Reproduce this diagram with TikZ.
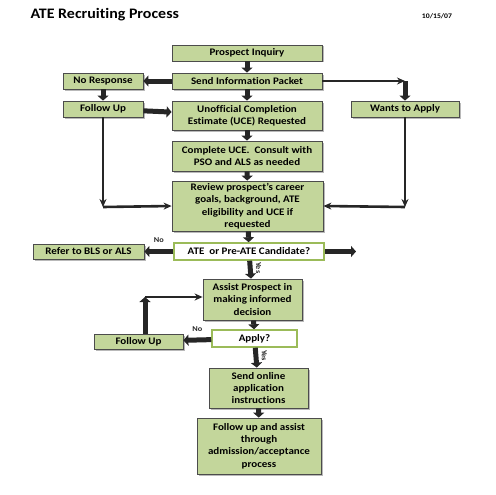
\documentclass[tikz,border=0pt]{standalone}
\usepackage{fontspec}
\setmainfont{Carlito}[FakeStretch=1.1,Ligatures=NoCommon]
\usetikzlibrary{arrows.meta,shadows}
\definecolor{boxgreen}{HTML}{C3D69B}
\definecolor{edgegreen}{HTML}{9BBB59}
\begin{document}
\begin{tikzpicture}[x=1pt,y=-1pt,font=\bfseries\fontsize{10}{12.4}\selectfont,
    box/.style={draw=black!70,line width=0.8pt,fill=boxgreen,align=center,inner sep=1pt,
      drop shadow={shadow xshift=1.5pt,shadow yshift=-1.5pt,fill=black!55}},
    ask/.style={draw=edgegreen,line width=1.5pt,fill=white,align=center,inner sep=1pt},
    flow/.style={line width=5pt,black!85,-{Triangle[width=11pt,length=5pt]}},
    link/.style={line width=2.6pt,black!85,-{Stealth[width=7pt,length=8pt]}},
    tag/.style={font=\bfseries\fontsize{7.5}{8}\selectfont}]
    \useasboundingbox (0,0) rectangle (495,495);
    \draw node[anchor=west] at(27,15) {\fontsize{14.5}{16}\selectfont ATE Recruiting Process};
    \draw node at(437,16) {\fontsize{7}{8}\selectfont 10/15/07};
    % boxes
    \node[box,minimum width=150,minimum height=16] (pinq) at(247,53) {Prospect Inquiry};
    \node[box,minimum width=150,minimum height=16] (sendp) at(247,81) {Send Information Packet};
    \node[box,minimum width=80,minimum height=16] (noresp) at(103,81) {No Response};
    \node[box,minimum width=80,minimum height=16] (fupa) at(103,109) {Follow Up};
    \node[box,minimum width=150,minimum height=29] (uce) at(247,115.5) {Unofficial Completion\\Estimate (UCE) Requested};
    \node[box,minimum width=108,minimum height=16] (wants) at(405,109) {Wants to Apply};
    \node[box,minimum width=150,minimum height=30] (compl) at(247,156) {Complete UCE.\ \ Consult with\\PSO and ALS as needed};
    \node[box,minimum width=151,minimum height=50] (review) at(247.5,206) {Review prospect’s career\\goals, background, ATE\\eligibility and UCE if\\requested};
    \node[ask,minimum width=150,minimum height=17] (cand) at(249,251.5) {ATE\ \ or Pre-ATE Candidate?};
    \node[box,minimum width=111,minimum height=15] (refer) at(88.5,251.5) {Refer to BLS or ALS};
    \node[box,minimum width=99,minimum height=41] (assist) at(252.5,299.5) {Assist Prospect in\\making informed\\decision};
    \node[ask,minimum width=85,minimum height=17] (apply) at(254.5,338.5) {Apply?};
    \node[box,minimum width=89,minimum height=15] (fupb) at(138.5,341.5) {Follow Up};
    \node[box,minimum width=99,minimum height=40] (sendo) at(258.5,388) {Send online\\application\\instructions};
    \node[box,minimum width=124,minimum height=56] (fassist) at(259,446) {Follow up and assist\\through\\admission/acceptance\\process};
    % corners and free ends
    \coordinate (wturn) at(405,81);
    \coordinate (fturn) at(103,207);
    \coordinate (aturn) at(405,207);
    \coordinate (cend) at(356,251.5);
    \coordinate (bturn) at(145,297);
    % short block arrows
    \draw[flow] (pinq) -- (sendp);
    \draw[flow] (sendp) -- (noresp);
    \draw[flow] (noresp) -- (fupa);
    \draw[flow] (sendp) -- (uce);
    \draw[flow] (fupa) -- (uce);
    \draw[flow] (uce) -- (compl);
    \draw[flow] (compl) -- (review);
    \draw[flow] (review) -- (cand);
    \draw[flow] (cand) -- node[tag,above,yshift=3pt] {No} (refer);
    \draw[flow] (cand) -- (cend);
    \draw[flow] (cand) -- node[tag,rotate=-90,anchor=south,pos=0.4] {Yes} (assist);
    \draw[flow] (assist) -- (apply);
    \draw[flow] (apply) -- node[tag,above,yshift=3pt] {No} (fupb);
    \draw[flow] (apply) -- node[tag,rotate=-90,anchor=south,pos=0.4] {Yes} (sendo);
    \draw[flow] (sendo) -- (fassist);
    % long connectors
    \draw[link] (sendp.east) -- (wturn);
    \draw[flow] (wturn) -- (wants);
    \draw[link] (fupa) -- (fturn);
    \draw[link] (fturn) -- (review.west);
    \draw[link] (wants) -- (aturn);
    \draw[link] (aturn) -- (review.east);
    \draw[flow] (fupb.north -| bturn) -- (bturn);
    \draw[link] (bturn) -- (assist.west |- bturn);
\end{tikzpicture}
\end{document}
